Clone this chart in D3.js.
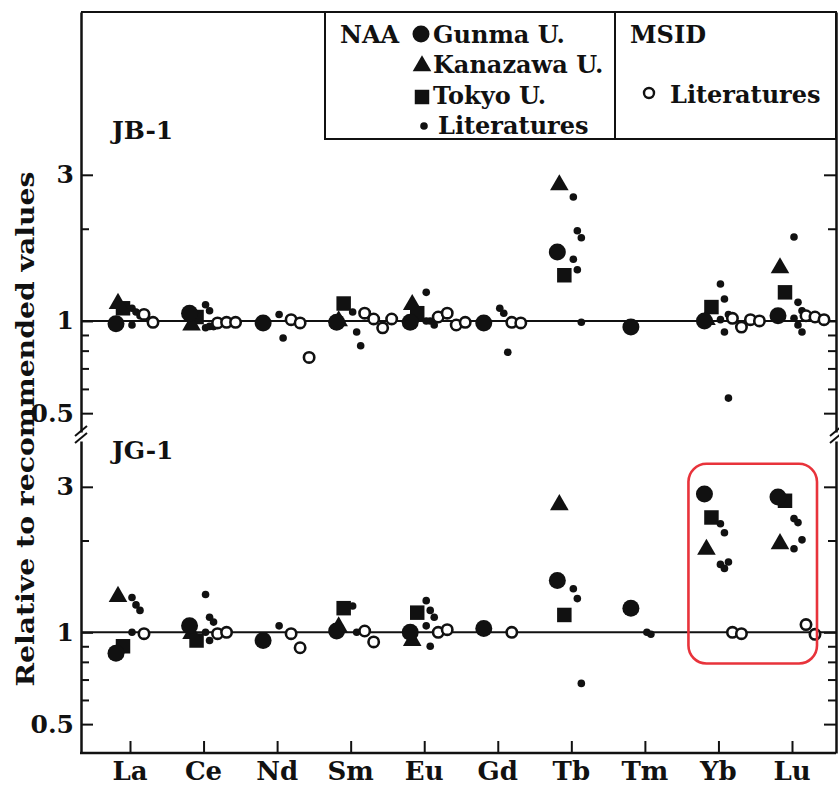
<!DOCTYPE html>
<html>
<head>
<meta charset="utf-8">
<script src="https://cdn.jsdelivr.net/npm/d3@7"></script>
<style>
  body { margin: 0; background: #fff; }
  text { font-family: "DejaVu Serif", serif; font-weight: bold; fill: #111; }
</style>
</head>
<body>
<div id="chart"></div>
<script>
// REE data, relative to recommended values
var elements = ["La", "Ce", "Nd", "Sm", "Eu", "Gd", "Tb", "Tm", "Yb", "Lu"];

// JB-1
var jb1Gunma    = [0.98, 1.06, 0.985, 0.99, 0.99, 0.985, 1.68, 0.955, 1.0, 1.04];
var jb1Kanazawa = [1.14, 0.97, null, 1.0, 1.13, null, 2.78, null, 1.01, 1.49];
var jb1Tokyo    = [1.10, 1.03, null, 1.14, 1.06, null, 1.41, null, 1.11, 1.24];
var jb1NaaLit = [
  [1.10, 1.07, 1.04, 0.97],
  [1.13, 1.08, 0.96, 0.95, 0.96, 0.96],
  [1.05, 0.88],
  [1.07, 0.92, 0.83],
  [1.24, 1.0, 0.97, 1.0],
  [1.10, 1.06, 0.79],
  [2.54, 1.97, 1.87, 1.59, 1.47, 0.99],
  [],
  [1.32, 1.18, 1.05, 1.01, 0.92, 0.56],
  [1.88, 1.15, 1.08, 1.02, 0.97, 0.92]
];
var jb1MsidLit = [
  [1.05, 0.99],
  [0.985, 0.99, 0.99],
  [1.01, 0.985, 0.76],
  [1.06, 1.015, 0.95, 1.015],
  [1.03, 1.06, 0.97, 0.99],
  [0.99, 0.985],
  [],
  [],
  [1.02, 0.955, 1.01, 1.0],
  [1.04, 1.03, 1.01]
];

// JG-1
var jg1Gunma    = [0.854, 1.05, 0.94, 1.01, 1.0, 1.03, 1.48, 1.20, 2.84, 2.78];
var jg1Kanazawa = [1.31, 0.99, null, 1.04, 0.94, null, 2.62, null, 1.87, 1.95];
var jg1Tokyo    = [0.90, 0.94, null, 1.20, 1.16, null, 1.14, null, 2.38, 2.70];
var jg1NaaLit = [
  [1.30, 1.23, 1.18, 1.0],
  [1.33, 1.12, 1.08, 1.0, 0.94],
  [1.05],
  [1.22, 1.0],
  [1.27, 1.18, 1.12, 1.05, 0.90],
  [],
  [1.39, 1.29, 0.68],
  [1.0, 0.985],
  [2.27, 2.12, 1.70, 1.67, 1.62],
  [2.36, 2.29, 2.01, 1.88]
];
var jg1MsidLit = [
  [0.99],
  [0.99, 1.0],
  [0.99, 0.89],
  [1.01, 0.93],
  [1.0, 1.02],
  [1.0],
  [],
  [],
  [1.0, 0.99],
  [1.06, 0.985]
];

var majorTicks = [0.5, 1, 3];
var minorTicks = [0.6, 0.7, 0.8, 0.9, 2];

(function() {
var W = 839, H = 787;
var fLeft = 81, fRight = 836, fTop = 12, fBottom = 753;

var svg = d3.select("#chart").append("svg")
  .attr("width", W).attr("height", H);

var x = d3.scalePoint().domain(elements).range([130, 792]);

var panels = [
  { name: "JB-1", y: d3.scaleLog().domain([0.434, 10.2]).range([432, fTop]),
    g: jb1Gunma, k: jb1Kanazawa, t: jb1Tokyo, naa: jb1NaaLit, msid: jb1MsidLit, labelY: 139 },
  { name: "JG-1", y: d3.scaleLog().domain([0.402, 4.24]).range([fBottom, 441]),
    g: jg1Gunma, k: jg1Kanazawa, t: jg1Tokyo, naa: jg1NaaLit, msid: jg1MsidLit, labelY: 459 }
];

// frame: top and bottom lines
svg.append("line").attr("x1", fLeft).attr("x2", fRight).attr("y1", fTop).attr("y2", fTop)
  .attr("stroke", "#111").attr("stroke-width", 2);
svg.append("line").attr("x1", fLeft - 1).attr("x2", fRight).attr("y1", fBottom).attr("y2", fBottom)
  .attr("stroke", "#111").attr("stroke-width", 2.5);

// x ticks and labels
var gx = svg.append("g").attr("transform", "translate(0," + fBottom + ")")
  .call(d3.axisTop(x).tickSize(12).tickSizeOuter(0).tickFormat(""));
gx.select(".domain").remove();
gx.selectAll(".tick line").attr("stroke", "#111").attr("stroke-width", 2);

svg.append("g").selectAll("text").data(elements).enter().append("text")
  .attr("x", d => x(d)).attr("y", 780)
  .attr("text-anchor", "middle").attr("font-size", 26)
  .text(d => d);

function styleAxis(g) {
  g.select(".domain").attr("stroke", "#111").attr("stroke-width", 2.5);
  g.selectAll(".tick line").attr("stroke", "#111").attr("stroke-width", 2);
  g.selectAll(".tick text").attr("font-family", "DejaVu Serif").attr("font-weight", "bold")
    .attr("font-size", 25).attr("fill", "#111");
}

panels.forEach(function(p) {
  var y = p.y;

  // left axis, majors with labels
  var la = svg.append("g").attr("transform", "translate(" + fLeft + ",0)")
    .call(d3.axisLeft(y).tickValues(majorTicks).tickSize(-12).tickSizeOuter(0)
      .tickPadding(7).tickFormat(d3.format("")));
  styleAxis(la);
  var lm = svg.append("g").attr("transform", "translate(" + fLeft + ",0)")
    .call(d3.axisLeft(y).tickValues(minorTicks).tickSize(-8).tickSizeOuter(0).tickFormat(""));
  styleAxis(lm);
  lm.select(".domain").remove();

  // right axis
  var ra = svg.append("g").attr("transform", "translate(" + fRight + ",0)")
    .call(d3.axisRight(y).tickValues(majorTicks).tickSize(-12).tickSizeOuter(0).tickFormat(""));
  styleAxis(ra);
  var rm = svg.append("g").attr("transform", "translate(" + fRight + ",0)")
    .call(d3.axisRight(y).tickValues(minorTicks).tickSize(-8).tickSizeOuter(0).tickFormat(""));
  styleAxis(rm);
  rm.select(".domain").remove();

  // reference line at 1
  svg.append("line").attr("x1", fLeft).attr("x2", fRight)
    .attr("y1", y(1)).attr("y2", y(1))
    .attr("stroke", "#111").attr("stroke-width", 2);

  // panel label
  svg.append("text").attr("x", 112).attr("y", p.labelY)
    .attr("font-size", 25).text(p.name);

  var gp = svg.append("g");

  // NAA literature dots
  elements.forEach(function(el, i) {
    gp.selectAll(null).data(p.naa[i]).enter().append("circle")
      .attr("cx", (d, j) => x(el) + 2 + (j % 3) * 4)
      .attr("cy", d => y(d))
      .attr("r", 3.8).attr("fill", "#111");
  });

  // MSID literature open circles
  elements.forEach(function(el, i) {
    gp.selectAll(null).data(p.msid[i]).enter().append("circle")
      .attr("cx", (d, j) => x(el) + 14 + j * 9)
      .attr("cy", d => y(d))
      .attr("r", 5.2).attr("fill", "#fff").attr("stroke", "#111").attr("stroke-width", 2.6);
  });

  // Tokyo U. squares
  gp.selectAll(null).data(p.t.map((v, i) => [elements[i], v]).filter(d => d[1] != null))
    .enter().append("path")
    .attr("transform", d => "translate(" + (x(d[0]) - 7) + "," + y(d[1]) + ")")
    .attr("d", d3.symbol(d3.symbolSquare, 210)()).attr("fill", "#111");

  // Kanazawa U. triangles
  gp.selectAll(null).data(p.k.map((v, i) => [elements[i], v]).filter(d => d[1] != null))
    .enter().append("path")
    .attr("transform", d => "translate(" + (x(d[0]) - 12) + "," + y(d[1]) + ")")
    .attr("d", d3.symbol(d3.symbolTriangle, 150)()).attr("fill", "#111");

  // Gunma U. circles
  gp.selectAll(null).data(p.g.map((v, i) => [elements[i], v]).filter(d => d[1] != null))
    .enter().append("circle")
    .attr("cx", d => x(d[0]) - 14).attr("cy", d => y(d[1]))
    .attr("r", 8.5).attr("fill", "#111");
});

// axis break marks
[fLeft, fRight].forEach(function(ax) {
  [431, 438].forEach(function(yy) {
    svg.append("line").attr("x1", ax - 6).attr("x2", ax + 6)
      .attr("y1", yy + 5).attr("y2", yy - 5)
      .attr("stroke", "#111").attr("stroke-width", 2);
  });
});

// y title
svg.append("text")
  .attr("transform", "translate(34,429) rotate(-90)")
  .attr("text-anchor", "middle").attr("font-size", 25)
  .attr("textLength", 515).attr("lengthAdjust", "spacingAndGlyphs")
  .text("Relative to recommended values");

// legend
var lg = svg.append("g");
lg.append("rect").attr("x", 325).attr("y", fTop).attr("width", fRight - 325).attr("height", 127)
  .attr("fill", "#fff").attr("stroke", "#111").attr("stroke-width", 2);
lg.append("line").attr("x1", 615).attr("x2", 615).attr("y1", fTop).attr("y2", fTop + 127)
  .attr("stroke", "#111").attr("stroke-width", 2);
lg.append("text").attr("x", 340).attr("y", 43).attr("font-size", 24).text("NAA");
lg.append("circle").attr("cx", 421).attr("cy", 34).attr("r", 8.5).attr("fill", "#111");
lg.append("text").attr("x", 433).attr("y", 43).attr("font-size", 24).text("Gunma U.");
lg.append("path").attr("transform", "translate(422,66)")
  .attr("d", d3.symbol(d3.symbolTriangle, 150)()).attr("fill", "#111");
lg.append("text").attr("x", 433).attr("y", 73).attr("font-size", 24).text("Kanazawa U.");
lg.append("path").attr("transform", "translate(422,97)")
  .attr("d", d3.symbol(d3.symbolSquare, 210)()).attr("fill", "#111");
lg.append("text").attr("x", 433).attr("y", 104).attr("font-size", 24).text("Tokyo U.");
lg.append("circle").attr("cx", 424).attr("cy", 126).attr("r", 3.8).attr("fill", "#111");
lg.append("text").attr("x", 438).attr("y", 134).attr("font-size", 24).text("Literatures");
lg.append("text").attr("x", 630).attr("y", 43).attr("font-size", 24).text("MSID");
lg.append("circle").attr("cx", 649).attr("cy", 93).attr("r", 5)
  .attr("fill", "#fff").attr("stroke", "#111").attr("stroke-width", 2.4);
lg.append("text").attr("x", 670).attr("y", 103).attr("font-size", 24).text("Literatures");

// red highlight box around Yb and Lu of JG-1
var yb = panels[1].y;
svg.append("rect")
  .attr("x", x("Yb") - 30).attr("y", yb(3.57))
  .attr("width", x("Lu") - x("Yb") + 55).attr("height", yb(0.79) - yb(3.57))
  .attr("rx", 18).attr("fill", "none")
  .attr("stroke", "#e8333b").attr("stroke-width", 2.6);
})();
</script>
</body>
</html>
